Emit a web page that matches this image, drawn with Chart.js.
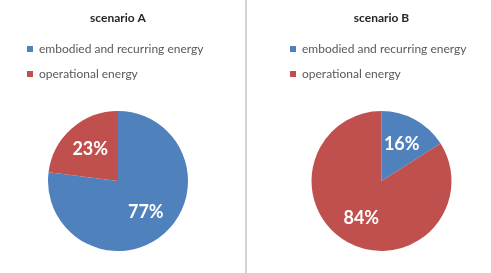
<!DOCTYPE html>
<html>
<head>
<meta charset="utf-8">
<script src="https://cdn.jsdelivr.net/npm/chart.js@4"></script>
<style>
  html, body { margin: 0; padding: 0; background: #fff; }
  body { width: 491px; height: 273px; position: relative; overflow: hidden; }
  .panel { position: absolute; top: 0; height: 273px; }
  #divider { position: absolute; left: 245px; top: 0; width: 2px; height: 273px; background: #d4d4d4; }
</style>
</head>
<body>
<div class="panel" style="left:0;width:236px"><canvas id="cA"></canvas></div>
<div id="divider"></div>
<div class="panel" style="left:272px;width:219px"><canvas id="cB"></canvas></div>
<script>
const categories = ['embodied and recurring energy', 'operational energy'];
const titles = ['scenario A', 'scenario B'];
const scenarioA = [77, 23];
const scenarioB = [16, 84];
const colors = ['#4F81BD', '#C0504D'];

const pctLabels = {
  id: 'pctLabels',
  afterDatasetsDraw(chart) {
    const ctx = chart.ctx;
    const meta = chart.getDatasetMeta(0);
    const data = chart.data.datasets[0].data;
    ctx.save();
    ctx.fillStyle = '#ffffff';
    ctx.font = 'bold 18px Lato';
    ctx.textAlign = 'center';
    ctx.textBaseline = 'middle';
    meta.data.forEach((arc, i) => {
      const p = arc.getProps(['x', 'y', 'startAngle', 'endAngle', 'outerRadius'], true);
      const mid = (p.startAngle + p.endAngle) / 2;
      const r = p.outerRadius * 0.6;
      ctx.fillText(data[i] + '%', p.x + Math.cos(mid) * r, p.y + Math.sin(mid) * r);
    });
    ctx.restore();
  }
};

function makeChart(id, title, values, sidePad) {
  return new Chart(document.getElementById(id), {
    type: 'pie',
    data: {
      labels: categories,
      datasets: [{ data: values, backgroundColor: colors, borderWidth: 0, radius: 70 }]
    },
    options: {
      responsive: true,
      maintainAspectRatio: false,
      animation: false,
      layout: { padding: { top: 0, bottom: 1, left: sidePad, right: sidePad } },
      plugins: {
        title: {
          display: true,
          text: title,
          color: '#262626',
          font: { family: 'Lato', size: 12, weight: 'bold' },
          padding: { top: 11, bottom: 4.6 }
        },
        legend: {
          display: true,
          position: 'top',
          align: 'start',
          labels: {
            boxWidth: 6,
            boxHeight: 6,
            padding: 13,
            color: '#595959',
            font: { family: 'Lato', size: 12 }
          }
        },
        tooltip: { enabled: false }
      }
    },
    plugins: [pctLabels]
  });
}

makeChart('cA', titles[0], scenarioA, 14);
makeChart('cB', titles[1], scenarioB, 5);
</script>
</body>
</html>
